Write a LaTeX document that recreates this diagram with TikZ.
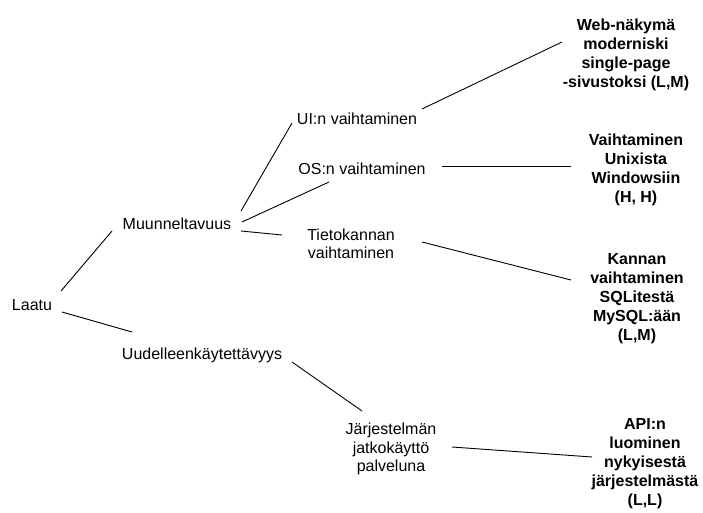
\documentclass[tikz,border=0pt]{standalone}
\usepackage{fontspec}
\setmainfont{Liberation Sans}
\usepackage{tikz}

\tikzset{
  attr/.style={inner sep=0pt, align=center, font=\fontsize{16}{18.5}\selectfont},
  scen/.style={inner sep=0pt, align=center, font=\fontsize{16}{19}\selectfont\bfseries},
  branch/.style={line width=0.9pt, black}
}

\begin{document}
\begin{tikzpicture}[x=1pt, y=-1pt]
\useasboundingbox (0,0) rectangle (703,513);

\node[attr] (laatu) at (32,305) {Laatu};
        \node[attr] (muunn) at (177,224) {Muunneltavuus};
        \node[attr] (uudel) at (202,355) {Uudelleenkäytettävyys};

        \node[attr] (ui) at (357,119) {UI:n vaihtaminen};
        \node[attr] (os) at (362,169) {OS:n vaihtaminen};
        \node[attr] (tieto) at (351,244) {Tietokannan\\vaihtaminen};
        \node[attr] (jarj) at (391,449) {Järjestelmän\\jatkokäyttö\\palveluna};

        \node[scen] (web) at (626,55) {Web-näkymä\\moderniski\\single-page\\-sivustoksi (L,M)};
        \node[scen] (unix) at (636,170) {Vaihtaminen\\Unixista\\Windowsiin\\(H, H)};
        \node[scen] (kannan) at (637,299) {Kannan\\vaihtaminen\\SQLitestä\\MySQL:ään\\(L,M)};
        \node[scen] (api) at (645,464) {API:n\\luominen\\nykyisestä\\järjestelmästä\\(L,L)};

\draw[branch] ([shift={(29,-14)}]laatu.center) -- ([shift={(-65,7)}]muunn.center);
\draw[branch] ([shift={(30,7)}]laatu.center) -- ([shift={(-70,-23)}]uudel.center);
\draw[branch] ([shift={(64,-13)}]muunn.center) -- ([shift={(-65,4)}]ui.center);
\draw[branch] ([shift={(65,-2)}]muunn.center) -- ([shift={(-33,13)}]os.center);
\draw[branch] ([shift={(64,7)}]muunn.center) -- ([shift={(-69,-9)}]tieto.center);
\draw[branch] ([shift={(65,-10)}]ui.center) -- ([shift={(-64,-13)}]web.center);
\draw[branch] ([shift={(80,-3)}]os.center) -- ([shift={(-65,-4)}]unix.center);
\draw[branch] ([shift={(71,-2)}]tieto.center) -- ([shift={(-66,-19)}]kannan.center);
\draw[branch] ([shift={(90,7)}]uudel.center) -- ([shift={(-29,-38)}]jarj.center);
\draw[branch] ([shift={(61,-2)}]jarj.center) -- ([shift={(-53,-7)}]api.center);
\end{tikzpicture}
\end{document}
